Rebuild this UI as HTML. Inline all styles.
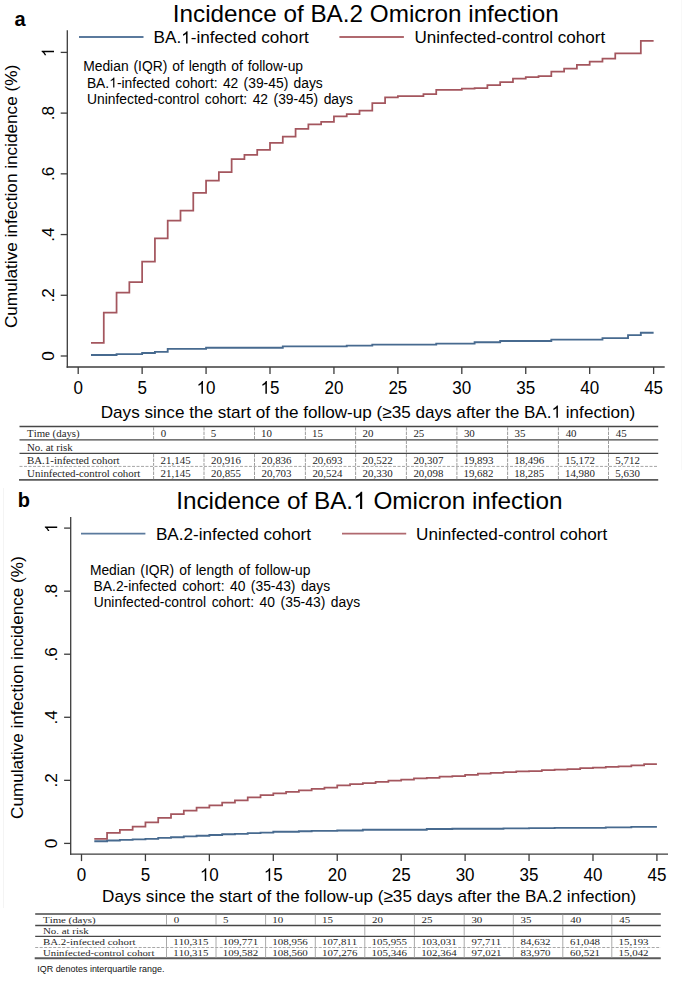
<!DOCTYPE html>
<html><head><meta charset="utf-8"><style>
html,body{margin:0;padding:0;background:#fff;}
svg{display:block;}
text{font-kerning:none;}
</style></head><body>
<svg width="685" height="985" viewBox="0 0 685 985" shape-rendering="auto">
<rect width="685" height="985" fill="#fff"/>
<line x1="681.5" y1="0" x2="681.5" y2="470" stroke="#f8f8f8" stroke-width="1"/>
<line x1="3.5" y1="488" x2="3.5" y2="908" stroke="#f4f4f4" stroke-width="1"/>
<text x="14.40" y="26.3" font-family='"Liberation Sans", sans-serif' font-size="20" font-weight="bold" fill="#000" textLength="11.12" lengthAdjust="spacingAndGlyphs">a</text>
<text x="172.82" y="22.2" font-family='"Liberation Sans", sans-serif' font-size="24" fill="#000" textLength="385.82" lengthAdjust="spacingAndGlyphs">Incidence of BA.2 Omicron infection</text>
<line x1="79" y1="37.0" x2="143.5" y2="37.0" stroke="#5b7a9d" stroke-width="1.8"/>
<g transform="translate(0 43.4)"><text x="153.53" y="0" font-family='"Liberation Sans", sans-serif' font-size="17" fill="#000" textLength="27.64" lengthAdjust="spacingAndGlyphs" style="white-space:pre">BA.</text><path d="M763 0H583V1147Q518 1085 412.5 1023T223 930V1104Q374 1175 487 1276T647 1472H763Z" fill="#000" transform="translate(181.17 0) scale(0.00837 -0.00830)"/><text x="190.70" y="0" font-family='"Liberation Sans", sans-serif' font-size="17" fill="#000" textLength="118.19" lengthAdjust="spacingAndGlyphs" style="white-space:pre">-infected cohort</text></g>
<line x1="339.4" y1="37.0" x2="403.9" y2="37.0" stroke="#b0696f" stroke-width="1.8"/>
<text x="414.52" y="43.4" font-family='"Liberation Sans", sans-serif' font-size="17" fill="#000" textLength="190.61" lengthAdjust="spacingAndGlyphs">Uninfected-control cohort</text>
<text x="83.19" y="71.3" font-family='"Liberation Sans", sans-serif' font-size="13.85" fill="#000">Median</text>
<text x="133.49" y="71.3" font-family='"Liberation Sans", sans-serif' font-size="13.85" fill="#000">(IQR)</text>
<text x="172.21" y="71.3" font-family='"Liberation Sans", sans-serif' font-size="13.85" fill="#000">of</text>
<text x="188.63" y="71.3" font-family='"Liberation Sans", sans-serif' font-size="13.85" fill="#000">length</text>
<text x="231.24" y="71.3" font-family='"Liberation Sans", sans-serif' font-size="13.85" fill="#000">of</text>
<text x="247.66" y="71.3" font-family='"Liberation Sans", sans-serif' font-size="13.85" fill="#000">follow-up</text>
<g transform="translate(0 87.5)"><text x="86.89" y="0" font-family='"Liberation Sans", sans-serif' font-size="13.85" fill="#000" textLength="22.32" lengthAdjust="spacingAndGlyphs" style="white-space:pre">BA.</text><path d="M763 0H583V1147Q518 1085 412.5 1023T223 930V1104Q374 1175 487 1276T647 1472H763Z" fill="#000" transform="translate(109.22 0) scale(0.00676 -0.00676)"/><text x="116.92" y="0" font-family='"Liberation Sans", sans-serif' font-size="13.85" fill="#000" textLength="53.12" lengthAdjust="spacingAndGlyphs" style="white-space:pre">-infected</text></g>
<text x="175.31" y="87.5" font-family='"Liberation Sans", sans-serif' font-size="13.85" fill="#000">cohort:</text>
<text x="222.93" y="87.5" font-family='"Liberation Sans", sans-serif' font-size="13.85" fill="#000">42</text>
<text x="243.61" y="87.5" font-family='"Liberation Sans", sans-serif' font-size="13.85" fill="#000">(39-45)</text>
<text x="293.53" y="87.5" font-family='"Liberation Sans", sans-serif' font-size="13.85" fill="#000">days</text>
<text x="86.96" y="103.8" font-family='"Liberation Sans", sans-serif' font-size="13.85" fill="#000">Uninfected-control</text>
<text x="204.83" y="103.8" font-family='"Liberation Sans", sans-serif' font-size="13.85" fill="#000">cohort:</text>
<text x="252.65" y="103.8" font-family='"Liberation Sans", sans-serif' font-size="13.85" fill="#000">42</text>
<text x="273.53" y="103.8" font-family='"Liberation Sans", sans-serif' font-size="13.85" fill="#000">(39-45)</text>
<text x="323.66" y="103.8" font-family='"Liberation Sans", sans-serif' font-size="13.85" fill="#000">days</text>
<line x1="67.3" y1="30.3" x2="67.3" y2="367.65" stroke="#3c3c3c" stroke-width="1.3"/>
<line x1="66.64999999999999" y1="367.0" x2="664.7" y2="367.0" stroke="#3c3c3c" stroke-width="1.3"/>
<line x1="60.699999999999996" y1="356.0" x2="67.3" y2="356.0" stroke="#3c3c3c" stroke-width="1.3"/>
<g transform="translate(54.0 356.0) rotate(-90) translate(-4.783 0)" fill="#000"><text x="0.000" y="0" transform="scale(1 1.0)" font-family='"Liberation Sans", sans-serif' font-size="17.2">0</text></g>
<line x1="60.699999999999996" y1="295.28" x2="67.3" y2="295.28" stroke="#3c3c3c" stroke-width="1.3"/>
<g transform="translate(54.0 295.28) rotate(-90) translate(-7.172 0)" fill="#000"><text x="0.000" y="0" transform="scale(1 1.0)" font-family='"Liberation Sans", sans-serif' font-size="17.2">.</text><text x="4.779" y="0" transform="scale(1 1.0)" font-family='"Liberation Sans", sans-serif' font-size="17.2">2</text></g>
<line x1="60.699999999999996" y1="234.56" x2="67.3" y2="234.56" stroke="#3c3c3c" stroke-width="1.3"/>
<g transform="translate(54.0 234.56) rotate(-90) translate(-7.172 0)" fill="#000"><text x="0.000" y="0" transform="scale(1 1.0)" font-family='"Liberation Sans", sans-serif' font-size="17.2">.</text><text x="4.779" y="0" transform="scale(1 1.0)" font-family='"Liberation Sans", sans-serif' font-size="17.2">4</text></g>
<line x1="60.699999999999996" y1="173.84" x2="67.3" y2="173.84" stroke="#3c3c3c" stroke-width="1.3"/>
<g transform="translate(54.0 173.84) rotate(-90) translate(-7.172 0)" fill="#000"><text x="0.000" y="0" transform="scale(1 1.0)" font-family='"Liberation Sans", sans-serif' font-size="17.2">.</text><text x="4.779" y="0" transform="scale(1 1.0)" font-family='"Liberation Sans", sans-serif' font-size="17.2">6</text></g>
<line x1="60.699999999999996" y1="113.11999999999998" x2="67.3" y2="113.11999999999998" stroke="#3c3c3c" stroke-width="1.3"/>
<g transform="translate(54.0 113.11999999999998) rotate(-90) translate(-7.172 0)" fill="#000"><text x="0.000" y="0" transform="scale(1 1.0)" font-family='"Liberation Sans", sans-serif' font-size="17.2">.</text><text x="4.779" y="0" transform="scale(1 1.0)" font-family='"Liberation Sans", sans-serif' font-size="17.2">8</text></g>
<line x1="60.699999999999996" y1="52.39999999999998" x2="67.3" y2="52.39999999999998" stroke="#3c3c3c" stroke-width="1.3"/>
<g transform="translate(54.0 52.39999999999998) rotate(-90) translate(-4.783 0)" fill="#000"><path d="M763 0H583V1147Q518 1085 412.5 1023T223 930V1104Q374 1175 487 1276T647 1472H763Z" transform="translate(0.000 0) scale(0.00840 -0.00840)"/></g>
<line x1="78.2" y1="367.0" x2="78.2" y2="374.0" stroke="#3c3c3c" stroke-width="1.3"/>
<g transform="translate(73.473 393.8)" fill="#000"><text x="0.000" y="0" transform="scale(1 1.04)" font-family='"Liberation Sans", sans-serif' font-size="17">0</text></g>
<line x1="142.135" y1="367.0" x2="142.135" y2="374.0" stroke="#3c3c3c" stroke-width="1.3"/>
<g transform="translate(137.408 393.8)" fill="#000"><text x="0.000" y="0" transform="scale(1 1.04)" font-family='"Liberation Sans", sans-serif' font-size="17">5</text></g>
<line x1="206.07" y1="367.0" x2="206.07" y2="374.0" stroke="#3c3c3c" stroke-width="1.3"/>
<g transform="translate(196.615 393.8)" fill="#000"><path d="M763 0H583V1147Q518 1085 412.5 1023T223 930V1104Q374 1175 487 1276T647 1472H763Z" transform="translate(0.000 0) scale(0.00830 -0.00863)"/><text x="9.455" y="0" transform="scale(1 1.04)" font-family='"Liberation Sans", sans-serif' font-size="17">0</text></g>
<line x1="270.005" y1="367.0" x2="270.005" y2="374.0" stroke="#3c3c3c" stroke-width="1.3"/>
<g transform="translate(260.550 393.8)" fill="#000"><path d="M763 0H583V1147Q518 1085 412.5 1023T223 930V1104Q374 1175 487 1276T647 1472H763Z" transform="translate(0.000 0) scale(0.00830 -0.00863)"/><text x="9.455" y="0" transform="scale(1 1.04)" font-family='"Liberation Sans", sans-serif' font-size="17">5</text></g>
<line x1="333.94" y1="367.0" x2="333.94" y2="374.0" stroke="#3c3c3c" stroke-width="1.3"/>
<g transform="translate(324.485 393.8)" fill="#000"><text x="0.000" y="0" transform="scale(1 1.04)" font-family='"Liberation Sans", sans-serif' font-size="17">2</text><text x="9.455" y="0" transform="scale(1 1.04)" font-family='"Liberation Sans", sans-serif' font-size="17">0</text></g>
<line x1="397.875" y1="367.0" x2="397.875" y2="374.0" stroke="#3c3c3c" stroke-width="1.3"/>
<g transform="translate(388.420 393.8)" fill="#000"><text x="0.000" y="0" transform="scale(1 1.04)" font-family='"Liberation Sans", sans-serif' font-size="17">2</text><text x="9.455" y="0" transform="scale(1 1.04)" font-family='"Liberation Sans", sans-serif' font-size="17">5</text></g>
<line x1="461.81" y1="367.0" x2="461.81" y2="374.0" stroke="#3c3c3c" stroke-width="1.3"/>
<g transform="translate(452.355 393.8)" fill="#000"><text x="0.000" y="0" transform="scale(1 1.04)" font-family='"Liberation Sans", sans-serif' font-size="17">3</text><text x="9.455" y="0" transform="scale(1 1.04)" font-family='"Liberation Sans", sans-serif' font-size="17">0</text></g>
<line x1="525.745" y1="367.0" x2="525.745" y2="374.0" stroke="#3c3c3c" stroke-width="1.3"/>
<g transform="translate(516.290 393.8)" fill="#000"><text x="0.000" y="0" transform="scale(1 1.04)" font-family='"Liberation Sans", sans-serif' font-size="17">3</text><text x="9.455" y="0" transform="scale(1 1.04)" font-family='"Liberation Sans", sans-serif' font-size="17">5</text></g>
<line x1="589.6800000000001" y1="367.0" x2="589.6800000000001" y2="374.0" stroke="#3c3c3c" stroke-width="1.3"/>
<g transform="translate(580.225 393.8)" fill="#000"><text x="0.000" y="0" transform="scale(1 1.04)" font-family='"Liberation Sans", sans-serif' font-size="17">4</text><text x="9.455" y="0" transform="scale(1 1.04)" font-family='"Liberation Sans", sans-serif' font-size="17">0</text></g>
<line x1="653.6150000000001" y1="367.0" x2="653.6150000000001" y2="374.0" stroke="#3c3c3c" stroke-width="1.3"/>
<g transform="translate(644.160 393.8)" fill="#000"><text x="0.000" y="0" transform="scale(1 1.04)" font-family='"Liberation Sans", sans-serif' font-size="17">4</text><text x="9.455" y="0" transform="scale(1 1.04)" font-family='"Liberation Sans", sans-serif' font-size="17">5</text></g>
<g transform="translate(17.4 328.06) rotate(-90) scale(1 1.0)"><text x="0" y="0" font-family='"Liberation Sans", sans-serif' font-size="17.2" fill="#000" textLength="263.20" lengthAdjust="spacingAndGlyphs">Cumulative infection incidence (%)</text></g>
<g transform="translate(0 417.7)"><text x="100.73" y="0" font-family='"Liberation Sans", sans-serif' font-size="17" fill="#000" textLength="450.80" lengthAdjust="spacingAndGlyphs" style="white-space:pre">Days since the start of the follow-up (≥35 days after the BA.</text><path d="M763 0H583V1147Q518 1085 412.5 1023T223 930V1104Q374 1175 487 1276T647 1472H763Z" fill="#000" transform="translate(551.53 0) scale(0.00836 -0.00830)"/><text x="561.05" y="0" font-family='"Liberation Sans", sans-serif' font-size="17" fill="#000" textLength="74.20" lengthAdjust="spacingAndGlyphs" style="white-space:pre"> infection)</text></g>
<path d="M90.99,354.95H116.56V354.05H142.13V352.95H154.92V351.85H167.71V348.85H206.07V347.75H282.79V346.35H346.73V345.65H372.30V344.65H436.24V343.65H474.60V342.25H500.17V340.95H551.32V339.55H602.47V338.15H628.04V335.05H640.83V332.75H653.62" fill="none" stroke="#476a8f" stroke-width="1.85" stroke-linejoin="miter" stroke-linecap="butt"/>
<path d="M90.99,342.90H103.77V312.60H116.56V292.60H129.35V282.00H142.13V261.60H154.92V238.30H167.71V220.50H180.50V210.70H193.28V192.80H206.07V180.60H218.86V172.20H231.64V159.10H244.43V154.90H257.22V149.80H270.00V142.80H282.79V136.70H295.58V128.80H308.37V124.30H321.15V121.80H333.94V116.30H346.73V114.20H359.51V110.50H372.30V103.20H385.09V97.40H397.88V96.20H423.45V94.10H436.24V89.90H461.81V88.70H474.60V88.00H487.38V85.00H500.17V82.00H512.96V78.50H525.75V77.10H538.53V76.20H551.32V71.50H564.11V68.60H576.89V64.80H589.68V61.60H602.47V58.70H615.25V53.40H640.83V40.80H653.62" fill="none" stroke="#a4565e" stroke-width="1.75" stroke-linejoin="miter" stroke-linecap="butt"/>
<line x1="19.5" y1="426.5" x2="658.2" y2="426.5" stroke="#474747" stroke-width="1.3"/>
<line x1="19.5" y1="439.9" x2="658.2" y2="439.9" stroke="#474747" stroke-width="1.3"/>
<line x1="19.5" y1="453.3" x2="658.2" y2="453.3" stroke="#474747" stroke-width="1.3"/>
<line x1="19.5" y1="466.4" x2="658.2" y2="466.4" stroke="#a5a5a5" stroke-width="1.0" stroke-dasharray="3 1.5"/>
<line x1="19.0" y1="479.9" x2="658.2" y2="479.9" stroke="#5a5a5a" stroke-width="1.9"/>
<line x1="153.6" y1="427.1" x2="153.6" y2="439.29999999999995" stroke="#929292" stroke-width="0.9" stroke-dasharray="3.5 1"/>
<line x1="153.6" y1="453.90000000000003" x2="153.6" y2="465.79999999999995" stroke="#929292" stroke-width="0.9" stroke-dasharray="3.5 1"/>
<line x1="153.6" y1="467.0" x2="153.6" y2="479.29999999999995" stroke="#929292" stroke-width="0.9" stroke-dasharray="3.5 1"/>
<line x1="204.0" y1="427.1" x2="204.0" y2="439.29999999999995" stroke="#929292" stroke-width="0.9" stroke-dasharray="3.5 1"/>
<line x1="204.0" y1="453.90000000000003" x2="204.0" y2="465.79999999999995" stroke="#929292" stroke-width="0.9" stroke-dasharray="3.5 1"/>
<line x1="204.0" y1="467.0" x2="204.0" y2="479.29999999999995" stroke="#929292" stroke-width="0.9" stroke-dasharray="3.5 1"/>
<line x1="254.5" y1="427.1" x2="254.5" y2="439.29999999999995" stroke="#929292" stroke-width="0.9" stroke-dasharray="3.5 1"/>
<line x1="254.5" y1="453.90000000000003" x2="254.5" y2="465.79999999999995" stroke="#929292" stroke-width="0.9" stroke-dasharray="3.5 1"/>
<line x1="254.5" y1="467.0" x2="254.5" y2="479.29999999999995" stroke="#929292" stroke-width="0.9" stroke-dasharray="3.5 1"/>
<line x1="305.4" y1="427.1" x2="305.4" y2="439.29999999999995" stroke="#929292" stroke-width="0.9" stroke-dasharray="3.5 1"/>
<line x1="305.4" y1="453.90000000000003" x2="305.4" y2="465.79999999999995" stroke="#929292" stroke-width="0.9" stroke-dasharray="3.5 1"/>
<line x1="305.4" y1="467.0" x2="305.4" y2="479.29999999999995" stroke="#929292" stroke-width="0.9" stroke-dasharray="3.5 1"/>
<line x1="355.6" y1="427.1" x2="355.6" y2="439.29999999999995" stroke="#929292" stroke-width="0.9" stroke-dasharray="3.5 1"/>
<line x1="355.6" y1="440.5" x2="355.6" y2="452.7" stroke="#929292" stroke-width="0.9" stroke-dasharray="3.5 1"/>
<line x1="355.6" y1="453.90000000000003" x2="355.6" y2="465.79999999999995" stroke="#929292" stroke-width="0.9" stroke-dasharray="3.5 1"/>
<line x1="355.6" y1="467.0" x2="355.6" y2="479.29999999999995" stroke="#929292" stroke-width="0.9" stroke-dasharray="3.5 1"/>
<line x1="406.4" y1="427.1" x2="406.4" y2="439.29999999999995" stroke="#929292" stroke-width="0.9" stroke-dasharray="3.5 1"/>
<line x1="406.4" y1="440.5" x2="406.4" y2="452.7" stroke="#929292" stroke-width="0.9" stroke-dasharray="3.5 1"/>
<line x1="406.4" y1="453.90000000000003" x2="406.4" y2="465.79999999999995" stroke="#929292" stroke-width="0.9" stroke-dasharray="3.5 1"/>
<line x1="406.4" y1="467.0" x2="406.4" y2="479.29999999999995" stroke="#929292" stroke-width="0.9" stroke-dasharray="3.5 1"/>
<line x1="456.9" y1="427.1" x2="456.9" y2="439.29999999999995" stroke="#929292" stroke-width="0.9" stroke-dasharray="3.5 1"/>
<line x1="456.9" y1="440.5" x2="456.9" y2="452.7" stroke="#929292" stroke-width="0.9" stroke-dasharray="3.5 1"/>
<line x1="456.9" y1="453.90000000000003" x2="456.9" y2="465.79999999999995" stroke="#929292" stroke-width="0.9" stroke-dasharray="3.5 1"/>
<line x1="456.9" y1="467.0" x2="456.9" y2="479.29999999999995" stroke="#929292" stroke-width="0.9" stroke-dasharray="3.5 1"/>
<line x1="507.6" y1="427.1" x2="507.6" y2="439.29999999999995" stroke="#929292" stroke-width="0.9" stroke-dasharray="3.5 1"/>
<line x1="507.6" y1="440.5" x2="507.6" y2="452.7" stroke="#929292" stroke-width="0.9" stroke-dasharray="3.5 1"/>
<line x1="507.6" y1="453.90000000000003" x2="507.6" y2="465.79999999999995" stroke="#929292" stroke-width="0.9" stroke-dasharray="3.5 1"/>
<line x1="507.6" y1="467.0" x2="507.6" y2="479.29999999999995" stroke="#929292" stroke-width="0.9" stroke-dasharray="3.5 1"/>
<line x1="558.4" y1="427.1" x2="558.4" y2="439.29999999999995" stroke="#929292" stroke-width="0.9" stroke-dasharray="3.5 1"/>
<line x1="558.4" y1="440.5" x2="558.4" y2="452.7" stroke="#929292" stroke-width="0.9" stroke-dasharray="3.5 1"/>
<line x1="558.4" y1="453.90000000000003" x2="558.4" y2="465.79999999999995" stroke="#929292" stroke-width="0.9" stroke-dasharray="3.5 1"/>
<line x1="558.4" y1="467.0" x2="558.4" y2="479.29999999999995" stroke="#929292" stroke-width="0.9" stroke-dasharray="3.5 1"/>
<line x1="608.5" y1="427.1" x2="608.5" y2="439.29999999999995" stroke="#929292" stroke-width="0.9" stroke-dasharray="3.5 1"/>
<line x1="608.5" y1="440.5" x2="608.5" y2="452.7" stroke="#929292" stroke-width="0.9" stroke-dasharray="3.5 1"/>
<line x1="608.5" y1="453.90000000000003" x2="608.5" y2="465.79999999999995" stroke="#929292" stroke-width="0.9" stroke-dasharray="3.5 1"/>
<line x1="608.5" y1="467.0" x2="608.5" y2="479.29999999999995" stroke="#929292" stroke-width="0.9" stroke-dasharray="3.5 1"/>
<text x="27.08" y="437.3" font-family='"Liberation Serif", serif' font-size="10.9" fill="#262626" textLength="52.58" lengthAdjust="spacingAndGlyphs">Time (days)</text>
<text x="160.66" y="437.3" font-family='"Liberation Serif", serif' font-size="10.9" fill="#262626" textLength="5.45" lengthAdjust="spacingAndGlyphs">0</text>
<text x="210.85" y="437.3" font-family='"Liberation Serif", serif' font-size="10.9" fill="#262626" textLength="5.45" lengthAdjust="spacingAndGlyphs">5</text>
<text x="261.07" y="437.3" font-family='"Liberation Serif", serif' font-size="10.9" fill="#262626" textLength="10.90" lengthAdjust="spacingAndGlyphs">10</text>
<text x="311.97" y="437.3" font-family='"Liberation Serif", serif' font-size="10.9" fill="#262626" textLength="10.90" lengthAdjust="spacingAndGlyphs">15</text>
<text x="362.61" y="437.3" font-family='"Liberation Serif", serif' font-size="10.9" fill="#262626" textLength="10.90" lengthAdjust="spacingAndGlyphs">20</text>
<text x="413.41" y="437.3" font-family='"Liberation Serif", serif' font-size="10.9" fill="#262626" textLength="10.90" lengthAdjust="spacingAndGlyphs">25</text>
<text x="463.91" y="437.3" font-family='"Liberation Serif", serif' font-size="10.9" fill="#262626" textLength="10.90" lengthAdjust="spacingAndGlyphs">30</text>
<text x="514.61" y="437.3" font-family='"Liberation Serif", serif' font-size="10.9" fill="#262626" textLength="10.90" lengthAdjust="spacingAndGlyphs">35</text>
<text x="565.68" y="437.3" font-family='"Liberation Serif", serif' font-size="10.9" fill="#262626" textLength="10.90" lengthAdjust="spacingAndGlyphs">40</text>
<text x="615.78" y="437.3" font-family='"Liberation Serif", serif' font-size="10.9" fill="#262626" textLength="10.90" lengthAdjust="spacingAndGlyphs">45</text>
<text x="26.97" y="450.6" font-family='"Liberation Serif", serif' font-size="10.9" fill="#262626" textLength="45.71" lengthAdjust="spacingAndGlyphs">No. at risk</text>
<text x="26.97" y="463.9" font-family='"Liberation Serif", serif' font-size="10.9" fill="#262626" textLength="92.62" lengthAdjust="spacingAndGlyphs">BA.1-infected cohort</text>
<text x="160.61" y="463.9" font-family='"Liberation Serif", serif' font-size="10.9" fill="#262626" textLength="29.98" lengthAdjust="spacingAndGlyphs">21,145</text>
<text x="211.01" y="463.9" font-family='"Liberation Serif", serif' font-size="10.9" fill="#262626" textLength="29.98" lengthAdjust="spacingAndGlyphs">20,916</text>
<text x="261.51" y="463.9" font-family='"Liberation Serif", serif' font-size="10.9" fill="#262626" textLength="29.98" lengthAdjust="spacingAndGlyphs">20,836</text>
<text x="312.41" y="463.9" font-family='"Liberation Serif", serif' font-size="10.9" fill="#262626" textLength="29.98" lengthAdjust="spacingAndGlyphs">20,693</text>
<text x="362.61" y="463.9" font-family='"Liberation Serif", serif' font-size="10.9" fill="#262626" textLength="29.98" lengthAdjust="spacingAndGlyphs">20,522</text>
<text x="413.41" y="463.9" font-family='"Liberation Serif", serif' font-size="10.9" fill="#262626" textLength="29.98" lengthAdjust="spacingAndGlyphs">20,307</text>
<text x="463.47" y="463.9" font-family='"Liberation Serif", serif' font-size="10.9" fill="#262626" textLength="29.98" lengthAdjust="spacingAndGlyphs">19,893</text>
<text x="514.17" y="463.9" font-family='"Liberation Serif", serif' font-size="10.9" fill="#262626" textLength="29.98" lengthAdjust="spacingAndGlyphs">18,496</text>
<text x="564.97" y="463.9" font-family='"Liberation Serif", serif' font-size="10.9" fill="#262626" textLength="29.98" lengthAdjust="spacingAndGlyphs">15,172</text>
<text x="615.35" y="463.9" font-family='"Liberation Serif", serif' font-size="10.9" fill="#262626" textLength="24.53" lengthAdjust="spacingAndGlyphs">5,712</text>
<text x="27.08" y="477.3" font-family='"Liberation Serif", serif' font-size="10.9" fill="#262626" textLength="113.30" lengthAdjust="spacingAndGlyphs">Uninfected-control cohort</text>
<text x="160.61" y="477.3" font-family='"Liberation Serif", serif' font-size="10.9" fill="#262626" textLength="29.98" lengthAdjust="spacingAndGlyphs">21,145</text>
<text x="211.01" y="477.3" font-family='"Liberation Serif", serif' font-size="10.9" fill="#262626" textLength="29.98" lengthAdjust="spacingAndGlyphs">20,855</text>
<text x="261.51" y="477.3" font-family='"Liberation Serif", serif' font-size="10.9" fill="#262626" textLength="29.98" lengthAdjust="spacingAndGlyphs">20,703</text>
<text x="312.41" y="477.3" font-family='"Liberation Serif", serif' font-size="10.9" fill="#262626" textLength="29.98" lengthAdjust="spacingAndGlyphs">20,524</text>
<text x="362.61" y="477.3" font-family='"Liberation Serif", serif' font-size="10.9" fill="#262626" textLength="29.98" lengthAdjust="spacingAndGlyphs">20,330</text>
<text x="413.41" y="477.3" font-family='"Liberation Serif", serif' font-size="10.9" fill="#262626" textLength="29.98" lengthAdjust="spacingAndGlyphs">20,098</text>
<text x="463.47" y="477.3" font-family='"Liberation Serif", serif' font-size="10.9" fill="#262626" textLength="29.98" lengthAdjust="spacingAndGlyphs">19,682</text>
<text x="514.17" y="477.3" font-family='"Liberation Serif", serif' font-size="10.9" fill="#262626" textLength="29.98" lengthAdjust="spacingAndGlyphs">18,285</text>
<text x="564.97" y="477.3" font-family='"Liberation Serif", serif' font-size="10.9" fill="#262626" textLength="29.98" lengthAdjust="spacingAndGlyphs">14,980</text>
<text x="615.35" y="477.3" font-family='"Liberation Serif", serif' font-size="10.9" fill="#262626" textLength="24.53" lengthAdjust="spacingAndGlyphs">5,630</text>
<text x="17.70" y="507.0" font-family='"Liberation Sans", sans-serif' font-size="20" font-weight="bold" fill="#000" textLength="12.22" lengthAdjust="spacingAndGlyphs">b</text>
<g transform="translate(0 509.0)"><text x="176.21" y="0" font-family='"Liberation Sans", sans-serif' font-size="24" fill="#000" textLength="176.92" lengthAdjust="spacingAndGlyphs" style="white-space:pre">Incidence of BA.</text><path d="M763 0H583V1147Q518 1085 412.5 1023T223 930V1104Q374 1175 487 1276T647 1472H763Z" fill="#000" transform="translate(353.14 0) scale(0.01186 -0.01172)"/><text x="366.65" y="0" font-family='"Liberation Sans", sans-serif' font-size="24" fill="#000" textLength="195.79" lengthAdjust="spacingAndGlyphs" style="white-space:pre"> Omicron infection</text></g>
<line x1="81" y1="533.6" x2="145.4" y2="533.6" stroke="#5b7a9d" stroke-width="1.8"/>
<text x="155.93" y="540.1" font-family='"Liberation Sans", sans-serif' font-size="17" fill="#000" textLength="155.07" lengthAdjust="spacingAndGlyphs">BA.2-infected cohort</text>
<line x1="342" y1="533.6" x2="406.2" y2="533.6" stroke="#b0696f" stroke-width="1.8"/>
<text x="416.02" y="540.1" font-family='"Liberation Sans", sans-serif' font-size="17" fill="#000" textLength="191.32" lengthAdjust="spacingAndGlyphs">Uninfected-control cohort</text>
<text x="89.89" y="574.5" font-family='"Liberation Sans", sans-serif' font-size="13.85" fill="#000">Median</text>
<text x="140.33" y="574.5" font-family='"Liberation Sans", sans-serif' font-size="13.85" fill="#000">(IQR)</text>
<text x="179.19" y="574.5" font-family='"Liberation Sans", sans-serif' font-size="13.85" fill="#000">of</text>
<text x="195.75" y="574.5" font-family='"Liberation Sans", sans-serif' font-size="13.85" fill="#000">length</text>
<text x="238.50" y="574.5" font-family='"Liberation Sans", sans-serif' font-size="13.85" fill="#000">of</text>
<text x="255.06" y="574.5" font-family='"Liberation Sans", sans-serif' font-size="13.85" fill="#000">follow-up</text>
<text x="93.59" y="590.9" font-family='"Liberation Sans", sans-serif' font-size="13.85" fill="#000">BA.2-infected</text>
<text x="182.19" y="590.9" font-family='"Liberation Sans", sans-serif' font-size="13.85" fill="#000">cohort:</text>
<text x="229.98" y="590.9" font-family='"Liberation Sans", sans-serif' font-size="13.85" fill="#000">40</text>
<text x="250.83" y="590.9" font-family='"Liberation Sans", sans-serif' font-size="13.85" fill="#000">(35-43)</text>
<text x="300.93" y="590.9" font-family='"Liberation Sans", sans-serif' font-size="13.85" fill="#000">days</text>
<text x="93.66" y="606.9" font-family='"Liberation Sans", sans-serif' font-size="13.85" fill="#000">Uninfected-control</text>
<text x="211.66" y="606.9" font-family='"Liberation Sans", sans-serif' font-size="13.85" fill="#000">cohort:</text>
<text x="259.60" y="606.9" font-family='"Liberation Sans", sans-serif' font-size="13.85" fill="#000">40</text>
<text x="280.61" y="606.9" font-family='"Liberation Sans", sans-serif' font-size="13.85" fill="#000">(35-43)</text>
<text x="330.86" y="606.9" font-family='"Liberation Sans", sans-serif' font-size="13.85" fill="#000">days</text>
<line x1="70.7" y1="517.0" x2="70.7" y2="854.75" stroke="#3c3c3c" stroke-width="1.3"/>
<line x1="70.05" y1="854.1" x2="668.0" y2="854.1" stroke="#3c3c3c" stroke-width="1.3"/>
<line x1="64.10000000000001" y1="843.4" x2="70.7" y2="843.4" stroke="#3c3c3c" stroke-width="1.3"/>
<g transform="translate(57.2 843.4) rotate(-90) translate(-4.783 0)" fill="#000"><text x="0.000" y="0" transform="scale(1 1.0)" font-family='"Liberation Sans", sans-serif' font-size="17.2">0</text></g>
<line x1="64.10000000000001" y1="780.34" x2="70.7" y2="780.34" stroke="#3c3c3c" stroke-width="1.3"/>
<g transform="translate(57.2 780.34) rotate(-90) translate(-7.172 0)" fill="#000"><text x="0.000" y="0" transform="scale(1 1.0)" font-family='"Liberation Sans", sans-serif' font-size="17.2">.</text><text x="4.779" y="0" transform="scale(1 1.0)" font-family='"Liberation Sans", sans-serif' font-size="17.2">2</text></g>
<line x1="64.10000000000001" y1="717.28" x2="70.7" y2="717.28" stroke="#3c3c3c" stroke-width="1.3"/>
<g transform="translate(57.2 717.28) rotate(-90) translate(-7.172 0)" fill="#000"><text x="0.000" y="0" transform="scale(1 1.0)" font-family='"Liberation Sans", sans-serif' font-size="17.2">.</text><text x="4.779" y="0" transform="scale(1 1.0)" font-family='"Liberation Sans", sans-serif' font-size="17.2">4</text></g>
<line x1="64.10000000000001" y1="654.22" x2="70.7" y2="654.22" stroke="#3c3c3c" stroke-width="1.3"/>
<g transform="translate(57.2 654.22) rotate(-90) translate(-7.172 0)" fill="#000"><text x="0.000" y="0" transform="scale(1 1.0)" font-family='"Liberation Sans", sans-serif' font-size="17.2">.</text><text x="4.779" y="0" transform="scale(1 1.0)" font-family='"Liberation Sans", sans-serif' font-size="17.2">6</text></g>
<line x1="64.10000000000001" y1="591.16" x2="70.7" y2="591.16" stroke="#3c3c3c" stroke-width="1.3"/>
<g transform="translate(57.2 591.16) rotate(-90) translate(-7.172 0)" fill="#000"><text x="0.000" y="0" transform="scale(1 1.0)" font-family='"Liberation Sans", sans-serif' font-size="17.2">.</text><text x="4.779" y="0" transform="scale(1 1.0)" font-family='"Liberation Sans", sans-serif' font-size="17.2">8</text></g>
<line x1="64.10000000000001" y1="528.1" x2="70.7" y2="528.1" stroke="#3c3c3c" stroke-width="1.3"/>
<g transform="translate(57.2 528.1) rotate(-90) translate(-4.783 0)" fill="#000"><path d="M763 0H583V1147Q518 1085 412.5 1023T223 930V1104Q374 1175 487 1276T647 1472H763Z" transform="translate(0.000 0) scale(0.00840 -0.00840)"/></g>
<line x1="81.5" y1="854.1" x2="81.5" y2="861.1" stroke="#3c3c3c" stroke-width="1.3"/>
<g transform="translate(76.773 880.9)" fill="#000"><text x="0.000" y="0" transform="scale(1 1.04)" font-family='"Liberation Sans", sans-serif' font-size="17">0</text></g>
<line x1="145.435" y1="854.1" x2="145.435" y2="861.1" stroke="#3c3c3c" stroke-width="1.3"/>
<g transform="translate(140.708 880.9)" fill="#000"><text x="0.000" y="0" transform="scale(1 1.04)" font-family='"Liberation Sans", sans-serif' font-size="17">5</text></g>
<line x1="209.37" y1="854.1" x2="209.37" y2="861.1" stroke="#3c3c3c" stroke-width="1.3"/>
<g transform="translate(199.915 880.9)" fill="#000"><path d="M763 0H583V1147Q518 1085 412.5 1023T223 930V1104Q374 1175 487 1276T647 1472H763Z" transform="translate(0.000 0) scale(0.00830 -0.00863)"/><text x="9.455" y="0" transform="scale(1 1.04)" font-family='"Liberation Sans", sans-serif' font-size="17">0</text></g>
<line x1="273.305" y1="854.1" x2="273.305" y2="861.1" stroke="#3c3c3c" stroke-width="1.3"/>
<g transform="translate(263.850 880.9)" fill="#000"><path d="M763 0H583V1147Q518 1085 412.5 1023T223 930V1104Q374 1175 487 1276T647 1472H763Z" transform="translate(0.000 0) scale(0.00830 -0.00863)"/><text x="9.455" y="0" transform="scale(1 1.04)" font-family='"Liberation Sans", sans-serif' font-size="17">5</text></g>
<line x1="337.24" y1="854.1" x2="337.24" y2="861.1" stroke="#3c3c3c" stroke-width="1.3"/>
<g transform="translate(327.785 880.9)" fill="#000"><text x="0.000" y="0" transform="scale(1 1.04)" font-family='"Liberation Sans", sans-serif' font-size="17">2</text><text x="9.455" y="0" transform="scale(1 1.04)" font-family='"Liberation Sans", sans-serif' font-size="17">0</text></g>
<line x1="401.175" y1="854.1" x2="401.175" y2="861.1" stroke="#3c3c3c" stroke-width="1.3"/>
<g transform="translate(391.720 880.9)" fill="#000"><text x="0.000" y="0" transform="scale(1 1.04)" font-family='"Liberation Sans", sans-serif' font-size="17">2</text><text x="9.455" y="0" transform="scale(1 1.04)" font-family='"Liberation Sans", sans-serif' font-size="17">5</text></g>
<line x1="465.11" y1="854.1" x2="465.11" y2="861.1" stroke="#3c3c3c" stroke-width="1.3"/>
<g transform="translate(455.655 880.9)" fill="#000"><text x="0.000" y="0" transform="scale(1 1.04)" font-family='"Liberation Sans", sans-serif' font-size="17">3</text><text x="9.455" y="0" transform="scale(1 1.04)" font-family='"Liberation Sans", sans-serif' font-size="17">0</text></g>
<line x1="529.0450000000001" y1="854.1" x2="529.0450000000001" y2="861.1" stroke="#3c3c3c" stroke-width="1.3"/>
<g transform="translate(519.590 880.9)" fill="#000"><text x="0.000" y="0" transform="scale(1 1.04)" font-family='"Liberation Sans", sans-serif' font-size="17">3</text><text x="9.455" y="0" transform="scale(1 1.04)" font-family='"Liberation Sans", sans-serif' font-size="17">5</text></g>
<line x1="592.98" y1="854.1" x2="592.98" y2="861.1" stroke="#3c3c3c" stroke-width="1.3"/>
<g transform="translate(583.525 880.9)" fill="#000"><text x="0.000" y="0" transform="scale(1 1.04)" font-family='"Liberation Sans", sans-serif' font-size="17">4</text><text x="9.455" y="0" transform="scale(1 1.04)" font-family='"Liberation Sans", sans-serif' font-size="17">0</text></g>
<line x1="656.9150000000001" y1="854.1" x2="656.9150000000001" y2="861.1" stroke="#3c3c3c" stroke-width="1.3"/>
<g transform="translate(647.460 880.9)" fill="#000"><text x="0.000" y="0" transform="scale(1 1.04)" font-family='"Liberation Sans", sans-serif' font-size="17">4</text><text x="9.455" y="0" transform="scale(1 1.04)" font-family='"Liberation Sans", sans-serif' font-size="17">5</text></g>
<g transform="translate(23.0 818.96) rotate(-90) scale(1 1.0)"><text x="0" y="0" font-family='"Liberation Sans", sans-serif' font-size="17.2" fill="#000" textLength="262.59" lengthAdjust="spacingAndGlyphs">Cumulative infection incidence (%)</text></g>
<text x="102.13" y="902.2" font-family='"Liberation Sans", sans-serif' font-size="17" fill="#000" textLength="534.12" lengthAdjust="spacingAndGlyphs">Days since the start of the follow-up (≥35 days after the BA.2 infection)</text>
<path d="M94.29,841.20H107.07V840.50H119.86V839.80H132.65V839.30H145.44V838.80H158.22V837.90H171.01V837.20H183.80V836.30H196.58V835.70H209.37V835.00H222.16V834.20H234.94V833.80H247.73V833.10H260.52V832.60H273.31V831.70H298.88V831.20H311.67V830.80H337.24V830.50H362.81V829.70H426.75V829.00H452.32V828.70H503.47V828.40H529.05V828.10H554.62V827.90H605.77V827.40H631.34V826.80H656.92" fill="none" stroke="#476a8f" stroke-width="1.85" stroke-linejoin="miter" stroke-linecap="butt"/>
<path d="M94.29,838.80H107.07V832.90H119.86V829.90H132.65V826.60H145.44V822.40H158.22V817.80H171.01V814.00H183.80V810.50H196.58V807.60H209.37V805.44H222.16V802.73H234.94V800.28H247.73V797.47H260.52V795.15H273.31V793.25H286.09V791.90H298.88V790.40H311.67V788.90H324.45V787.50H337.24V785.40H350.03V784.10H362.81V783.10H375.60V781.90H388.39V780.70H401.18V779.60H413.96V778.40H426.75V777.80H439.54V776.70H452.32V776.10H465.11V774.90H477.90V773.70H490.68V772.75H503.47V772.00H516.26V771.25H529.05V771.05H541.83V770.20H554.62V769.65H567.41V769.00H580.19V768.15H592.98V767.60H605.77V766.90H618.55V766.35H631.34V765.25H644.13V764.00H656.92" fill="none" stroke="#a4565e" stroke-width="1.75" stroke-linejoin="miter" stroke-linecap="butt"/>
<line x1="35.2" y1="914.0" x2="660.8" y2="914.0" stroke="#474747" stroke-width="1.3"/>
<line x1="35.2" y1="925.5" x2="660.8" y2="925.5" stroke="#474747" stroke-width="1.3"/>
<line x1="35.2" y1="936.4" x2="660.8" y2="936.4" stroke="#474747" stroke-width="1.3"/>
<line x1="35.2" y1="947.5" x2="660.8" y2="947.5" stroke="#a8a8a8" stroke-width="1.0" stroke-dasharray="3 1.5"/>
<line x1="34.7" y1="958.3" x2="660.8" y2="958.3" stroke="#5a5a5a" stroke-width="1.9"/>
<line x1="166.5" y1="914.6" x2="166.5" y2="924.9" stroke="#a0a0a0" stroke-width="0.9"/>
<line x1="166.5" y1="937.0" x2="166.5" y2="946.9" stroke="#a0a0a0" stroke-width="0.9"/>
<line x1="166.5" y1="948.1" x2="166.5" y2="957.6999999999999" stroke="#a0a0a0" stroke-width="0.9"/>
<line x1="216.0" y1="914.6" x2="216.0" y2="924.9" stroke="#a0a0a0" stroke-width="0.9"/>
<line x1="216.0" y1="937.0" x2="216.0" y2="946.9" stroke="#a0a0a0" stroke-width="0.9"/>
<line x1="216.0" y1="948.1" x2="216.0" y2="957.6999999999999" stroke="#a0a0a0" stroke-width="0.9"/>
<line x1="265.6" y1="914.6" x2="265.6" y2="924.9" stroke="#a0a0a0" stroke-width="0.9"/>
<line x1="265.6" y1="937.0" x2="265.6" y2="946.9" stroke="#a0a0a0" stroke-width="0.9"/>
<line x1="265.6" y1="948.1" x2="265.6" y2="957.6999999999999" stroke="#a0a0a0" stroke-width="0.9"/>
<line x1="315.3" y1="914.6" x2="315.3" y2="924.9" stroke="#a0a0a0" stroke-width="0.9"/>
<line x1="315.3" y1="937.0" x2="315.3" y2="946.9" stroke="#a0a0a0" stroke-width="0.9"/>
<line x1="315.3" y1="948.1" x2="315.3" y2="957.6999999999999" stroke="#a0a0a0" stroke-width="0.9"/>
<line x1="364.8" y1="914.6" x2="364.8" y2="924.9" stroke="#a0a0a0" stroke-width="0.9"/>
<line x1="364.8" y1="926.1" x2="364.8" y2="935.8" stroke="#a0a0a0" stroke-width="0.9"/>
<line x1="364.8" y1="937.0" x2="364.8" y2="946.9" stroke="#a0a0a0" stroke-width="0.9"/>
<line x1="364.8" y1="948.1" x2="364.8" y2="957.6999999999999" stroke="#a0a0a0" stroke-width="0.9"/>
<line x1="414.4" y1="914.6" x2="414.4" y2="924.9" stroke="#a0a0a0" stroke-width="0.9"/>
<line x1="414.4" y1="926.1" x2="414.4" y2="935.8" stroke="#a0a0a0" stroke-width="0.9"/>
<line x1="414.4" y1="937.0" x2="414.4" y2="946.9" stroke="#a0a0a0" stroke-width="0.9"/>
<line x1="414.4" y1="948.1" x2="414.4" y2="957.6999999999999" stroke="#a0a0a0" stroke-width="0.9"/>
<line x1="464.2" y1="914.6" x2="464.2" y2="924.9" stroke="#a0a0a0" stroke-width="0.9"/>
<line x1="464.2" y1="926.1" x2="464.2" y2="935.8" stroke="#a0a0a0" stroke-width="0.9"/>
<line x1="464.2" y1="937.0" x2="464.2" y2="946.9" stroke="#a0a0a0" stroke-width="0.9"/>
<line x1="464.2" y1="948.1" x2="464.2" y2="957.6999999999999" stroke="#a0a0a0" stroke-width="0.9"/>
<line x1="513.3" y1="914.6" x2="513.3" y2="924.9" stroke="#a0a0a0" stroke-width="0.9"/>
<line x1="513.3" y1="926.1" x2="513.3" y2="935.8" stroke="#a0a0a0" stroke-width="0.9"/>
<line x1="513.3" y1="937.0" x2="513.3" y2="946.9" stroke="#a0a0a0" stroke-width="0.9"/>
<line x1="513.3" y1="948.1" x2="513.3" y2="957.6999999999999" stroke="#a0a0a0" stroke-width="0.9"/>
<line x1="562.8" y1="914.6" x2="562.8" y2="924.9" stroke="#a0a0a0" stroke-width="0.9"/>
<line x1="562.8" y1="926.1" x2="562.8" y2="935.8" stroke="#a0a0a0" stroke-width="0.9"/>
<line x1="562.8" y1="937.0" x2="562.8" y2="946.9" stroke="#a0a0a0" stroke-width="0.9"/>
<line x1="562.8" y1="948.1" x2="562.8" y2="957.6999999999999" stroke="#a0a0a0" stroke-width="0.9"/>
<line x1="611.8" y1="914.6" x2="611.8" y2="924.9" stroke="#a0a0a0" stroke-width="0.9"/>
<line x1="611.8" y1="926.1" x2="611.8" y2="935.8" stroke="#a0a0a0" stroke-width="0.9"/>
<line x1="611.8" y1="937.0" x2="611.8" y2="946.9" stroke="#a0a0a0" stroke-width="0.9"/>
<line x1="611.8" y1="948.1" x2="611.8" y2="957.6999999999999" stroke="#a0a0a0" stroke-width="0.9"/>
<g transform="translate(0 923.1) scale(1 0.83)"><text x="43.08" y="0" font-family='"Liberation Serif", serif' font-size="10.9" fill="#262626" textLength="52.58" lengthAdjust="spacingAndGlyphs">Time (days)</text></g>
<g transform="translate(0 923.1) scale(1 0.83)"><text x="173.76" y="0" font-family='"Liberation Serif", serif' font-size="10.9" fill="#262626" textLength="5.45" lengthAdjust="spacingAndGlyphs">0</text></g>
<g transform="translate(0 923.1) scale(1 0.83)"><text x="223.05" y="0" font-family='"Liberation Serif", serif' font-size="10.9" fill="#262626" textLength="5.45" lengthAdjust="spacingAndGlyphs">5</text></g>
<g transform="translate(0 923.1) scale(1 0.83)"><text x="272.37" y="0" font-family='"Liberation Serif", serif' font-size="10.9" fill="#262626" textLength="10.90" lengthAdjust="spacingAndGlyphs">10</text></g>
<g transform="translate(0 923.1) scale(1 0.83)"><text x="322.07" y="0" font-family='"Liberation Serif", serif' font-size="10.9" fill="#262626" textLength="10.90" lengthAdjust="spacingAndGlyphs">15</text></g>
<g transform="translate(0 923.1) scale(1 0.83)"><text x="372.01" y="0" font-family='"Liberation Serif", serif' font-size="10.9" fill="#262626" textLength="10.90" lengthAdjust="spacingAndGlyphs">20</text></g>
<g transform="translate(0 923.1) scale(1 0.83)"><text x="421.61" y="0" font-family='"Liberation Serif", serif' font-size="10.9" fill="#262626" textLength="10.90" lengthAdjust="spacingAndGlyphs">25</text></g>
<g transform="translate(0 923.1) scale(1 0.83)"><text x="471.41" y="0" font-family='"Liberation Serif", serif' font-size="10.9" fill="#262626" textLength="10.90" lengthAdjust="spacingAndGlyphs">30</text></g>
<g transform="translate(0 923.1) scale(1 0.83)"><text x="520.51" y="0" font-family='"Liberation Serif", serif' font-size="10.9" fill="#262626" textLength="10.90" lengthAdjust="spacingAndGlyphs">35</text></g>
<g transform="translate(0 923.1) scale(1 0.83)"><text x="570.28" y="0" font-family='"Liberation Serif", serif' font-size="10.9" fill="#262626" textLength="10.90" lengthAdjust="spacingAndGlyphs">40</text></g>
<g transform="translate(0 923.1) scale(1 0.83)"><text x="619.28" y="0" font-family='"Liberation Serif", serif' font-size="10.9" fill="#262626" textLength="10.90" lengthAdjust="spacingAndGlyphs">45</text></g>
<g transform="translate(0 934.1) scale(1 0.83)"><text x="42.97" y="0" font-family='"Liberation Serif", serif' font-size="10.9" fill="#262626" textLength="45.71" lengthAdjust="spacingAndGlyphs">No. at risk</text></g>
<g transform="translate(0 945.2) scale(1 0.83)"><text x="42.97" y="0" font-family='"Liberation Serif", serif' font-size="10.9" fill="#262626" textLength="92.62" lengthAdjust="spacingAndGlyphs">BA.2-infected cohort</text></g>
<g transform="translate(0 945.2) scale(1 0.83)"><text x="173.27" y="0" font-family='"Liberation Serif", serif' font-size="10.9" fill="#262626" textLength="35.02" lengthAdjust="spacingAndGlyphs">110,315</text></g>
<g transform="translate(0 945.2) scale(1 0.83)"><text x="222.77" y="0" font-family='"Liberation Serif", serif' font-size="10.9" fill="#262626" textLength="35.43" lengthAdjust="spacingAndGlyphs">109,771</text></g>
<g transform="translate(0 945.2) scale(1 0.83)"><text x="272.37" y="0" font-family='"Liberation Serif", serif' font-size="10.9" fill="#262626" textLength="35.43" lengthAdjust="spacingAndGlyphs">108,956</text></g>
<g transform="translate(0 945.2) scale(1 0.83)"><text x="322.07" y="0" font-family='"Liberation Serif", serif' font-size="10.9" fill="#262626" textLength="35.02" lengthAdjust="spacingAndGlyphs">107,811</text></g>
<g transform="translate(0 945.2) scale(1 0.83)"><text x="371.57" y="0" font-family='"Liberation Serif", serif' font-size="10.9" fill="#262626" textLength="35.43" lengthAdjust="spacingAndGlyphs">105,955</text></g>
<g transform="translate(0 945.2) scale(1 0.83)"><text x="421.17" y="0" font-family='"Liberation Serif", serif' font-size="10.9" fill="#262626" textLength="35.43" lengthAdjust="spacingAndGlyphs">103,031</text></g>
<g transform="translate(0 945.2) scale(1 0.83)"><text x="471.57" y="0" font-family='"Liberation Serif", serif' font-size="10.9" fill="#262626" textLength="29.57" lengthAdjust="spacingAndGlyphs">97,711</text></g>
<g transform="translate(0 945.2) scale(1 0.83)"><text x="520.56" y="0" font-family='"Liberation Serif", serif' font-size="10.9" fill="#262626" textLength="29.98" lengthAdjust="spacingAndGlyphs">84,632</text></g>
<g transform="translate(0 945.2) scale(1 0.83)"><text x="570.06" y="0" font-family='"Liberation Serif", serif' font-size="10.9" fill="#262626" textLength="29.98" lengthAdjust="spacingAndGlyphs">61,048</text></g>
<g transform="translate(0 945.2) scale(1 0.83)"><text x="618.57" y="0" font-family='"Liberation Serif", serif' font-size="10.9" fill="#262626" textLength="29.98" lengthAdjust="spacingAndGlyphs">15,193</text></g>
<g transform="translate(0 956.3) scale(1 0.83)"><text x="43.09" y="0" font-family='"Liberation Serif", serif' font-size="10.9" fill="#262626" textLength="111.29" lengthAdjust="spacingAndGlyphs">Uninfected-control cohort</text></g>
<g transform="translate(0 956.3) scale(1 0.83)"><text x="173.27" y="0" font-family='"Liberation Serif", serif' font-size="10.9" fill="#262626" textLength="35.02" lengthAdjust="spacingAndGlyphs">110,315</text></g>
<g transform="translate(0 956.3) scale(1 0.83)"><text x="222.77" y="0" font-family='"Liberation Serif", serif' font-size="10.9" fill="#262626" textLength="35.43" lengthAdjust="spacingAndGlyphs">109,582</text></g>
<g transform="translate(0 956.3) scale(1 0.83)"><text x="272.37" y="0" font-family='"Liberation Serif", serif' font-size="10.9" fill="#262626" textLength="35.43" lengthAdjust="spacingAndGlyphs">108,560</text></g>
<g transform="translate(0 956.3) scale(1 0.83)"><text x="322.07" y="0" font-family='"Liberation Serif", serif' font-size="10.9" fill="#262626" textLength="35.43" lengthAdjust="spacingAndGlyphs">107,276</text></g>
<g transform="translate(0 956.3) scale(1 0.83)"><text x="371.57" y="0" font-family='"Liberation Serif", serif' font-size="10.9" fill="#262626" textLength="35.43" lengthAdjust="spacingAndGlyphs">105,346</text></g>
<g transform="translate(0 956.3) scale(1 0.83)"><text x="421.17" y="0" font-family='"Liberation Serif", serif' font-size="10.9" fill="#262626" textLength="35.43" lengthAdjust="spacingAndGlyphs">102,364</text></g>
<g transform="translate(0 956.3) scale(1 0.83)"><text x="471.57" y="0" font-family='"Liberation Serif", serif' font-size="10.9" fill="#262626" textLength="29.98" lengthAdjust="spacingAndGlyphs">97,021</text></g>
<g transform="translate(0 956.3) scale(1 0.83)"><text x="520.56" y="0" font-family='"Liberation Serif", serif' font-size="10.9" fill="#262626" textLength="29.98" lengthAdjust="spacingAndGlyphs">83,970</text></g>
<g transform="translate(0 956.3) scale(1 0.83)"><text x="570.06" y="0" font-family='"Liberation Serif", serif' font-size="10.9" fill="#262626" textLength="29.98" lengthAdjust="spacingAndGlyphs">60,521</text></g>
<g transform="translate(0 956.3) scale(1 0.83)"><text x="618.57" y="0" font-family='"Liberation Serif", serif' font-size="10.9" fill="#262626" textLength="29.98" lengthAdjust="spacingAndGlyphs">15,042</text></g>
<text x="37.30" y="971.9" font-family='"Liberation Sans", sans-serif' font-size="9.5" fill="#111" textLength="127.11" lengthAdjust="spacingAndGlyphs">IQR denotes interquartile range.</text>
</svg>
</body></html>
